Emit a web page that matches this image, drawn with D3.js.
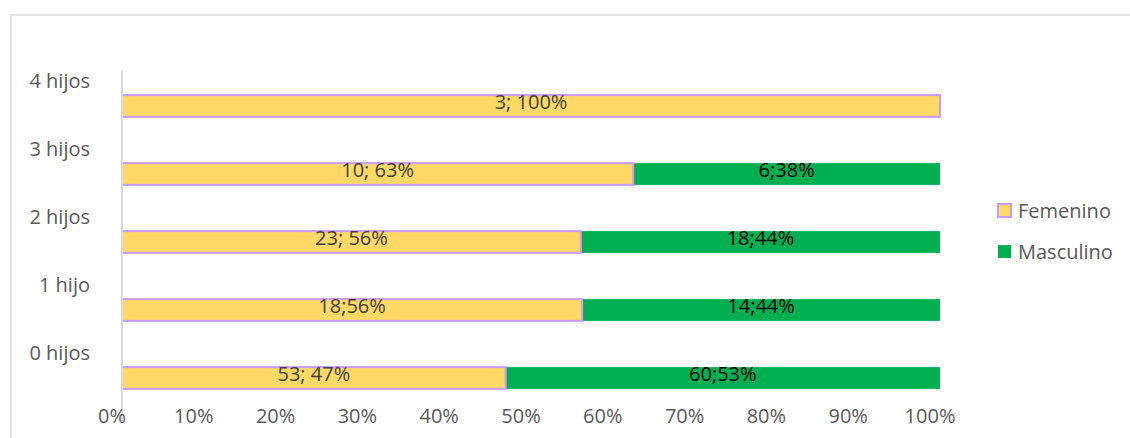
<!DOCTYPE html>
<html>
<head>
<meta charset="utf-8">
<script src="https://cdn.jsdelivr.net/npm/d3@7"></script>
<style>
  body { margin: 0; background: #fff; }
  svg { display: block; font-family: "Open Sans", sans-serif; }
</style>
</head>
<body>
<div class="canvas"></div>
<script>
// categories, bottom to top
const categories = ['0 hijos', '1 hijo', '2 hijos', '3 hijos', '4 hijos'];
const femenino = [53, 18, 23, 10, 3];
const masculino = [60, 14, 18, 6, 0];
const femLabels = ['53; 47%', '18;56%', '23; 56%', '10; 63%', '3; 100%'];
const mascLabels = ['60;53%', '14;44%', '18;44%', '6;38%', ''];
const ticks = [0, 0.1, 0.2, 0.3, 0.4, 0.5, 0.6, 0.7, 0.8, 0.9, 1];

const width = 1130, height = 438;

const svg = d3.select('.canvas')
  .append('svg')
  .attr('width', width)
  .attr('height', height);

// chart area border (runs off the right and bottom edge)
svg.append('rect')
  .attr('x', 11).attr('y', 15)
  .attr('width', 1200).attr('height', 500)
  .attr('fill', 'none')
  .attr('stroke', '#d9d9d9')
  .attr('stroke-width', 1.5);

const x = d3.scaleLinear().domain([0, 1]).range([122, 940]);
const y = d3.scaleBand()
  .domain(categories.slice().reverse())
  .range([71, 411])
  .paddingInner(0.68)
  .paddingOuter(0.34);

// data rows
const rows = categories.map((c, i) => {
  const total = femenino[i] + masculino[i];
  return { cat: c, f: femenino[i] / total, m: masculino[i] / total, fl: femLabels[i], ml: mascLabels[i] };
});

// bars sit in the band, category labels float above them
const barOff = 1;

const g = svg.append('g');

// masculino segments
g.selectAll('.masc')
  .data(rows.filter(d => d.m > 0))
  .enter().append('rect')
  .attr('class', 'masc')
  .attr('x', d => x(d.f))
  .attr('y', d => y(d.cat) + barOff)
  .attr('width', d => x(1) - x(d.f))
  .attr('height', y.bandwidth())
  .attr('fill', '#00b050');

// femenino segments
g.selectAll('.fem')
  .data(rows)
  .enter().append('rect')
  .attr('class', 'fem')
  .attr('x', x(0))
  .attr('y', d => y(d.cat) + barOff)
  .attr('width', d => x(d.f) - x(0))
  .attr('height', y.bandwidth())
  .attr('fill', '#ffd966')
  .attr('stroke', '#cc99ff')
  .attr('stroke-width', 2);

// vertical axis line
svg.append('line')
  .attr('x1', x(0)).attr('x2', x(0))
  .attr('y1', 71).attr('y2', 423)
  .attr('stroke', '#d9d9d9')
  .attr('stroke-width', 2);

// data labels
g.selectAll('.flab')
  .data(rows)
  .enter().append('text')
  .attr('x', d => (x(0) + x(d.f)) / 2)
  .attr('y', d => y(d.cat) + barOff + 14)
  .attr('text-anchor', 'middle')
  .attr('font-size', 20)
  .attr('fill', '#404040')
  .text(d => d.fl);

g.selectAll('.mlab')
  .data(rows.filter(d => d.m > 0))
  .enter().append('text')
  .attr('x', d => (x(d.f) + x(1)) / 2)
  .attr('y', d => y(d.cat) + barOff + 14)
  .attr('text-anchor', 'middle')
  .attr('font-size', 20)
  .attr('fill', '#000')
  .text(d => d.ml);

// category labels
svg.selectAll('.cat')
  .data(categories)
  .enter().append('text')
  .attr('x', 90)
  .attr('y', d => y(d) + y.bandwidth() / 2 - 17)
  .attr('text-anchor', 'end')
  .attr('font-size', 20)
  .attr('fill', '#595959')
  .text(d => d);

// x tick labels
svg.selectAll('.tick')
  .data(ticks)
  .enter().append('text')
  .attr('x', d => x(d) - 10)
  .attr('y', 423)
  .attr('text-anchor', 'middle')
  .attr('font-size', 20)
  .attr('fill', '#595959')
  .text(d => d3.format('.0%')(d));

// legend
const legend = [
  { name: 'Femenino', fill: '#ffd966', stroke: '#cc99ff', y: 203 },
  { name: 'Masculino', fill: '#00b050', stroke: 'none', y: 244 }
];
const lg = svg.selectAll('.leg').data(legend).enter().append('g');
lg.append('rect')
  .attr('x', 998).attr('y', d => d.y + 1)
  .attr('width', 13).attr('height', 13)
  .attr('fill', d => d.fill)
  .attr('stroke', d => d.stroke)
  .attr('stroke-width', 2);
lg.append('text')
  .attr('x', 1018).attr('y', d => d.y + 15)
  .attr('font-size', 20)
  .attr('fill', '#595959')
  .text(d => d.name);
</script>
</body>
</html>
